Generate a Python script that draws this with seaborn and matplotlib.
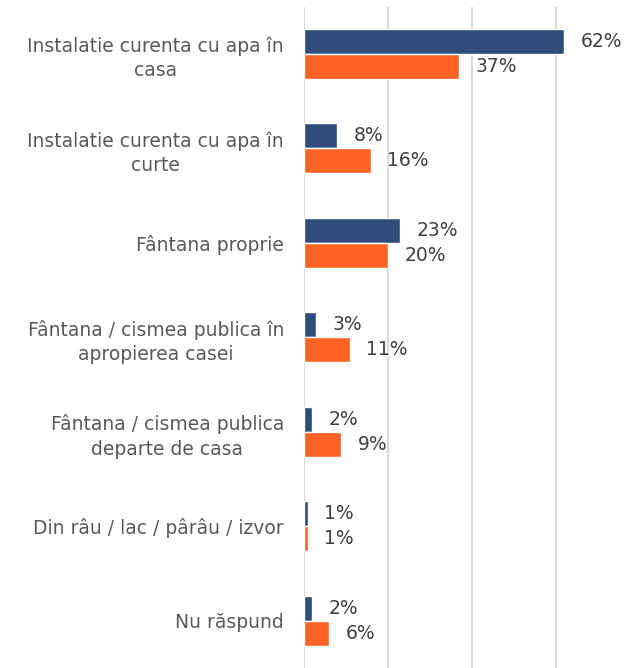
import pandas as pd
import seaborn as sns
import matplotlib.pyplot as plt

# categories and the two series (percent)
categories = [
    "Instalatie curenta cu apa în\ncasa",
    "Instalatie curenta cu apa în\ncurte",
    "Fântana proprie",
    "Fântana / cismea publica în\napropierea casei",
    "Fântana / cismea publica\ndeparte de casa",
    "Din râu / lac / pârâu / izvor",
    "Nu răspund",
]
series_names = ["Seria 1", "Seria 2"]
values_1 = [62, 8, 23, 3, 2, 1, 2]
values_2 = [37, 16, 20, 11, 9, 1, 6]

df = pd.DataFrame({
    "cat": categories * 2,
    "serie": [series_names[0]] * len(categories) + [series_names[1]] * len(categories),
    "val": values_1 + values_2,
})

sns.set_style("white")
plt.rcParams["font.family"] = ["DejaVu Sans"]

fig = plt.figure(figsize=(6.37, 6.68), dpi=100)
ax = fig.add_axes([0.4765, 0.0, 0.495, 0.99])

sns.barplot(data=df, y="cat", x="val", hue="serie", orient="h",
            palette=["#2E4D7B", "#FF6424"], width=0.53, saturation=1,
            legend=False, ax=ax)

ax.set_xlim(0, 75)
ax.set_ylim(6.5, -0.5)
ax.set_xticks([0, 20, 40, 60])
ax.xaxis.grid(True, color="#D9D9D9", linewidth=1.5)
ax.set_axisbelow(True)
ax.set_xticklabels([])
ax.set_xlabel("")
ax.set_ylabel("")
for s in ax.spines.values():
    s.set_visible(False)
ax.tick_params(axis="both", length=0)
ax.tick_params(axis="y", pad=14, labelsize=13.5, labelcolor="#595959")
for lab in ax.get_yticklabels():
    lab.set_multialignment("center")
    lab.set_linespacing(1.35)

for cont in ax.containers:
    ax.bar_label(cont, fmt="%d%%", padding=12, fontsize=13.5, color="#404040")

plt.savefig("out.png", dpi=100)
